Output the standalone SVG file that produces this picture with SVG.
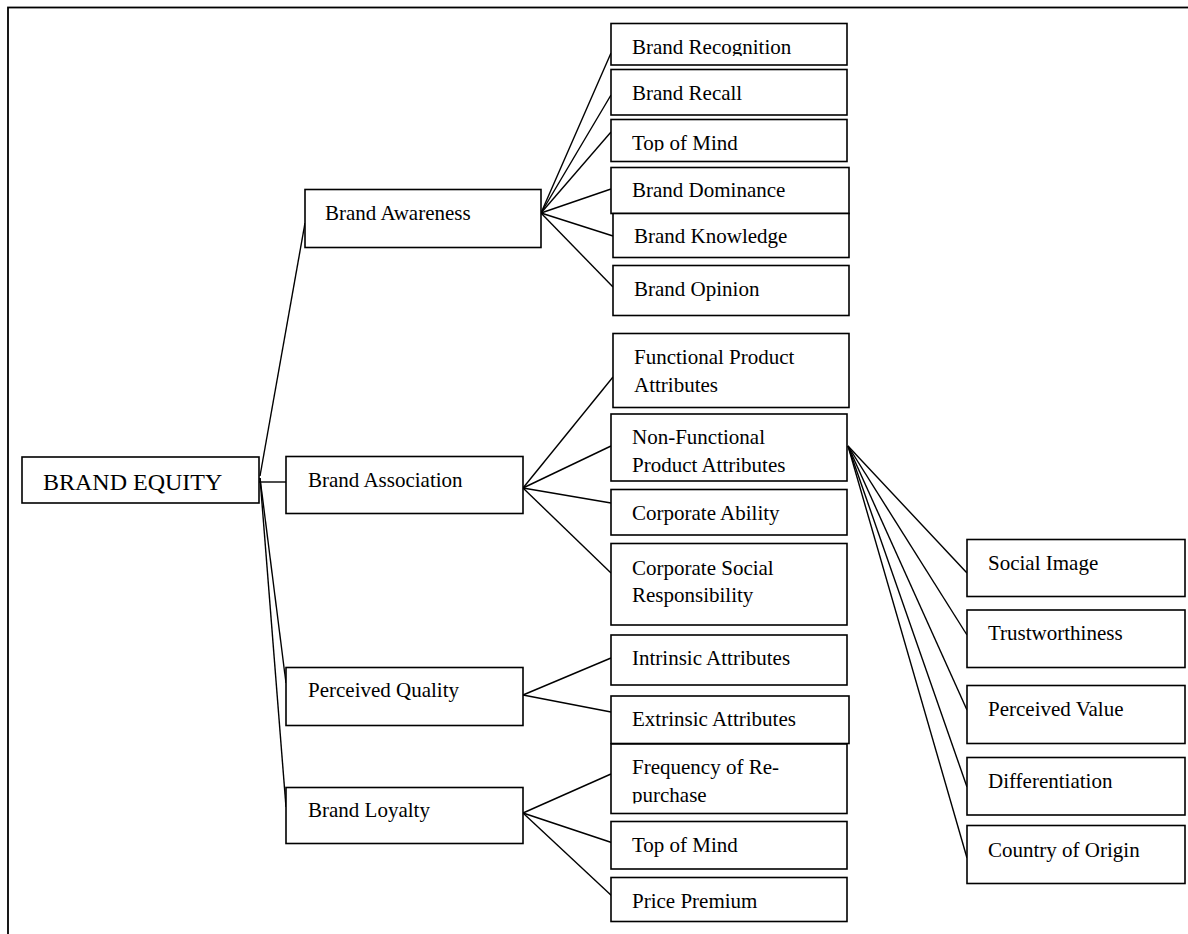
<svg xmlns="http://www.w3.org/2000/svg" width="1188" height="934" viewBox="0 0 1188 934">
<style>
.b{fill:#fff;stroke:#000;stroke-width:1.6}
.t{font-family:"Liberation Serif","Times New Roman",serif;font-size:21px;fill:#000}
.big{font-size:24px}
.c line{stroke:#000;stroke-width:1.4}
</style>
<defs>
<clipPath id="c1"><rect x="611" y="23.5" width="236" height="32.5"/></clipPath>
<clipPath id="c2"><rect x="611" y="119.5" width="236" height="32"/></clipPath>
<clipPath id="c3"><rect x="611" y="744" width="236" height="59.5"/></clipPath>
</defs>
<rect x="0" y="0" width="1188" height="934" fill="#fff"/>
<rect id="frame" x="8" y="7.5" width="1200" height="1000" fill="none" stroke="#000" stroke-width="1.8"/>
<g id="connectors" class="c">
<line x1="260" y1="476" x2="305" y2="223"/>
<line x1="259" y1="482" x2="286" y2="482"/>
<line x1="260" y1="478" x2="286" y2="683"/>
<line x1="260" y1="478" x2="286" y2="807"/>
<line x1="541" y1="213" x2="611" y2="53"/>
<line x1="541" y1="213" x2="611" y2="95"/>
<line x1="541" y1="213" x2="611" y2="132"/>
<line x1="541" y1="213" x2="611" y2="189"/>
<line x1="541" y1="213" x2="613" y2="236"/>
<line x1="541" y1="213" x2="613" y2="287"/>
<line x1="523" y1="488" x2="613" y2="377"/>
<line x1="523" y1="488" x2="611" y2="446"/>
<line x1="523" y1="488" x2="611" y2="503"/>
<line x1="523" y1="488" x2="611" y2="573"/>
<line x1="523" y1="695" x2="611" y2="658"/>
<line x1="523" y1="695" x2="611" y2="712"/>
<line x1="523" y1="813" x2="611" y2="774"/>
<line x1="523" y1="813" x2="613" y2="843"/>
<line x1="523" y1="813" x2="613" y2="897"/>
<line x1="848" y1="446" x2="967" y2="573"/>
<line x1="848" y1="446" x2="967" y2="635"/>
<line x1="848" y1="446" x2="967" y2="710"/>
<line x1="848" y1="446" x2="967" y2="787"/>
<line x1="848" y1="446" x2="967" y2="858"/>
</g>
<g id="n-brand-equity"><rect class="b" x="22" y="457" width="237" height="46"/><text class="t big" x="43" y="490">BRAND EQUITY</text></g>
<g id="n-brand-awareness"><rect class="b" x="305" y="189.5" width="236" height="58"/><text class="t" x="325" y="220">Brand Awareness</text></g>
<g id="n-brand-association"><rect class="b" x="286" y="456.5" width="237" height="57"/><text class="t" x="308" y="487">Brand Association</text></g>
<g id="n-perceived-quality"><rect class="b" x="286" y="667.5" width="237" height="58"/><text class="t" x="308" y="697">Perceived Quality</text></g>
<g id="n-brand-loyalty"><rect class="b" x="286" y="787.5" width="237" height="56"/><text class="t" x="308" y="817">Brand Loyalty</text></g>
<g id="n-brand-recognition"><rect class="b" x="611" y="23.5" width="236" height="41.5"/><text class="t" x="632" y="54" clip-path="url(#c1)">Brand Recognition</text></g>
<g id="n-brand-recall"><rect class="b" x="611" y="69.5" width="236" height="45.5"/><text class="t" x="632" y="99.5">Brand Recall</text></g>
<g id="n-top-of-mind-1"><rect class="b" x="611" y="119.5" width="236" height="42"/><text class="t" x="632" y="149.5" clip-path="url(#c2)">Top of Mind</text></g>
<g id="n-brand-dominance"><rect class="b" x="611" y="167.5" width="238" height="46"/><text class="t" x="632" y="197">Brand Dominance</text></g>
<g id="n-brand-knowledge"><rect class="b" x="613" y="213.5" width="236" height="44"/><text class="t" x="634" y="243">Brand Knowledge</text></g>
<g id="n-brand-opinion"><rect class="b" x="613" y="265.5" width="236" height="50"/><text class="t" x="634" y="295.5">Brand Opinion</text></g>
<g id="n-functional"><rect class="b" x="613" y="333.5" width="236" height="74"/><text class="t" x="634" y="363.5">Functional Product</text><text class="t" x="634" y="391.5">Attributes</text></g>
<g id="n-non-functional"><rect class="b" x="611" y="414" width="236" height="67"/><text class="t" x="632" y="444">Non-Functional</text><text class="t" x="632" y="471.5">Product Attributes</text></g>
<g id="n-corporate-ability"><rect class="b" x="611" y="489.5" width="236" height="45.5"/><text class="t" x="632" y="519.5">Corporate Ability</text></g>
<g id="n-csr"><rect class="b" x="611" y="543.5" width="236" height="81.5"/><text class="t" x="632" y="575">Corporate Social</text><text class="t" x="632" y="601.5">Responsibility</text></g>
<g id="n-intrinsic"><rect class="b" x="611" y="635" width="236" height="50"/><text class="t" x="632" y="665">Intrinsic Attributes</text></g>
<g id="n-extrinsic"><rect class="b" x="611" y="696" width="238" height="47.5"/><text class="t" x="632" y="726">Extrinsic Attributes</text></g>
<g id="n-frequency"><rect class="b" x="611" y="744" width="236" height="69.5"/><text class="t" x="632" y="774">Frequency of Re-</text><text class="t" x="632" y="801.5" clip-path="url(#c3)">purchase</text></g>
<g id="n-top-of-mind-2"><rect class="b" x="611" y="821.5" width="236" height="47.5"/><text class="t" x="632" y="851.5">Top of Mind</text></g>
<g id="n-price-premium"><rect class="b" x="611" y="877.5" width="236" height="44"/><text class="t" x="632" y="907.5">Price Premium</text></g>
<g id="n-social-image"><rect class="b" x="967" y="539.5" width="218" height="57"/><text class="t" x="988" y="570">Social Image</text></g>
<g id="n-trustworthiness"><rect class="b" x="967" y="610" width="218" height="57.5"/><text class="t" x="988" y="640">Trustworthiness</text></g>
<g id="n-perceived-value"><rect class="b" x="967" y="685.5" width="218" height="58"/><text class="t" x="988" y="716">Perceived Value</text></g>
<g id="n-differentiation"><rect class="b" x="967" y="757.5" width="218" height="57.5"/><text class="t" x="988" y="788">Differentiation</text></g>
<g id="n-country-of-origin"><rect class="b" x="967" y="825.5" width="218" height="58"/><text class="t" x="988" y="857">Country of Origin</text></g>
</svg>
